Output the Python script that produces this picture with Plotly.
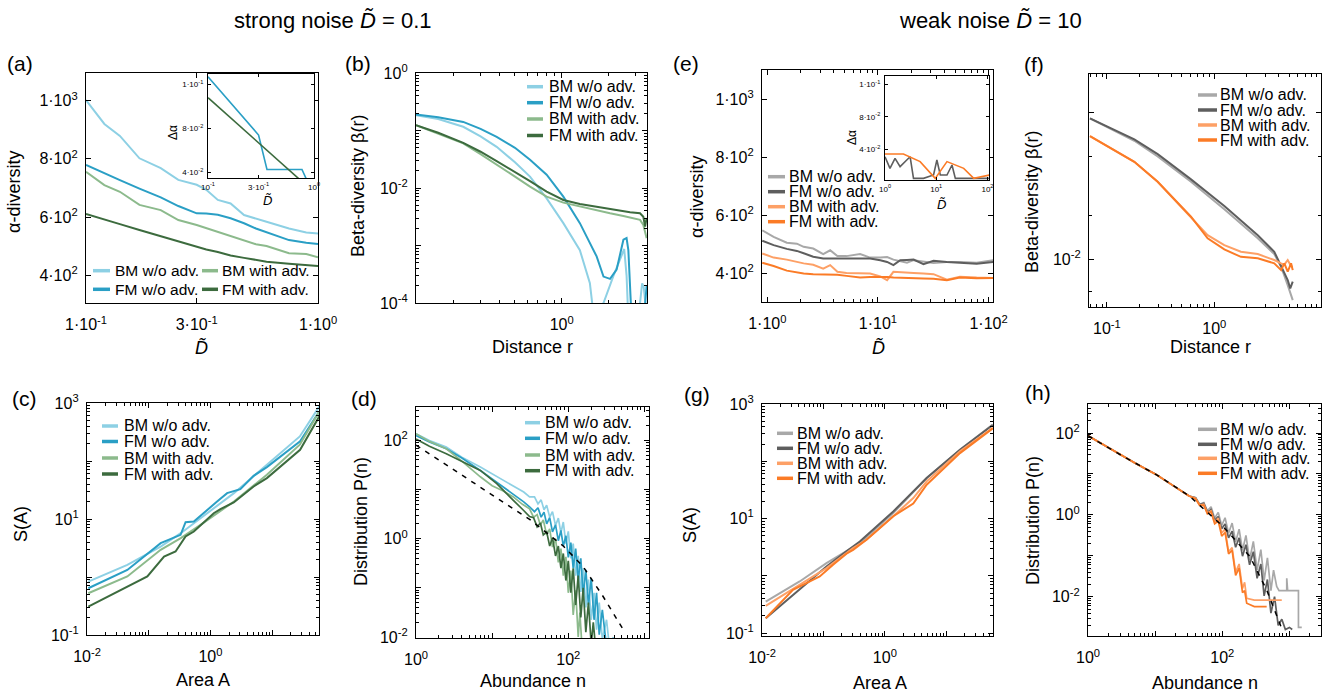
import plotly.graph_objects as go

W, H = 1333, 696
FONT = "Liberation Sans, Arial, Helvetica, sans-serif"

# ---------------- colours ----------------
C_BM_WO_A = "#8dd0e4"
C_FM_WO_A = "#2a9fc5"
C_BM_WI_A = "#8cba8c"
C_FM_WI_A = "#3c6b3e"
C_BM_WO_B = "#a8a8a8"
C_FM_WO_B = "#5e5e5e"
C_BM_WI_B = "#fda066"
C_FM_WI_B = "#fb7b26"

LABELS = ["BM w/o adv.", "FM w/o adv.", "BM with adv.", "FM with adv."]

# ---------------- (a) alpha diversity, strong noise ----------------
a_D = [0.1, 0.12, 0.14, 0.17, 0.21, 0.25, 0.30, 0.33, 0.37, 0.42, 0.48, 0.54, 0.60, 0.75, 0.89, 1.0]
a_bm_wo = [1002, 920, 879, 802, 768, 728, 711, 694, 659, 647, 607, 596, 584, 561, 547, 544]
a_fm_wo = [779, 750, 727, 698, 668, 638, 613, 612, 608, 596, 579, 561, 549, 521, 512, 508]
a_bm_with = [756, 710, 687, 642, 624, 590, 573, 562, 550, 536, 520, 507, 501, 476, 473, 462]
a_fm_with = [611, 591, 576, 556, 535, 515, 498, 489, 480, 468, 460, 453, 447, 440, 435, 432]
# inset of (a)
ia_D_wo = [0.1, 0.3, 0.36, 0.77, 0.88, 1.0]
ia_wo = [0.105, 0.0655, 0.0422, 0.0422, 0.033, 0.025]
ia_D_with = [0.1, 0.3, 0.71, 1.0]
ia_with = [0.0908, 0.0602, 0.0362, 0.0267]

# ---------------- (b) beta diversity, strong noise ----------------
b_r_bm_wo = [0.115, 0.16, 0.232, 0.30, 0.381, 0.50, 0.625, 0.80, 1.025, 1.31, 1.52, 1.62, 1.86, 2.15, 2.53, 2.62, 2.70, 3.20, 3.30, 3.38, 3.53]
b_bm_wo = [0.185, 0.158, 0.116, 0.079, 0.052, 0.028, 0.0158, 0.0066, 0.00245, 0.00083, 0.00022, 0.00005, 0.0001, 0.00029, 0.00087, 0.0003, 0.00004, 0.0001, 0.00022, 0.00019, 0.00006]
b_r_fm_wo = [0.115, 0.16, 0.232, 0.30, 0.381, 0.50, 0.625, 0.80, 1.025, 1.31, 1.68, 1.86, 2.05, 2.26, 2.50, 2.62, 2.69, 2.76, 2.85, 3.40, 3.53]
b_fm_wo = [0.189, 0.170, 0.141, 0.107, 0.0776, 0.050, 0.0309, 0.0170, 0.00708, 0.00245, 0.000646, 0.000288, 0.000263, 0.00038, 0.00126, 0.00135, 0.00083, 0.0001, 0.00003, 0.00006, 0.0002]
b_r_with = [0.115, 0.16, 0.232, 0.30, 0.381, 0.50, 0.625, 0.80, 1.025, 1.31, 1.68, 2.05, 2.50, 2.76, 3.20, 3.36, 3.45, 3.53]
b_bm_with = [0.1236, 0.0887, 0.0596, 0.0389, 0.0251, 0.0158, 0.01054, 0.00708, 0.00557, 0.00474, 0.00405, 0.00363, 0.00327, 0.00306, 0.00279, 0.00228, 0.00164, 0.00134]
b_fm_with = [0.1236, 0.0912, 0.0611, 0.0427, 0.0294, 0.0192, 0.0132, 0.00863, 0.00619, 0.00528, 0.00474, 0.00427, 0.00389, 0.0038, 0.00363, 0.00316, 0.00214, 0.00302]

# ---------------- (c) species-area, strong noise ----------------
c_A_bm_wo = [0.0105, 0.045, 0.156, 0.33, 0.69, 2.4, 8.2, 28, 58]
c_bm_wo = [0.834, 1.62, 3.35, 5.69, 10.3, 27.9, 86.1, 265, 875]
c_A_fm_wo = [0.0105, 0.045, 0.156, 0.328, 0.395, 0.538, 1.28, 1.86, 3.05, 5.0, 8.2, 28.3, 58]
c_fm_wo = [0.64, 1.32, 3.83, 5.33, 8.81, 9.06, 20.0, 27.9, 32.7, 55.6, 78.5, 218, 718]
c_A_bm_with = [0.0105, 0.045, 0.156, 0.33, 0.69, 2.4, 8.2, 28, 58]
c_bm_with = [0.524, 1.02, 2.94, 4.67, 7.93, 20.0, 57.9, 191, 718]
c_A_fm_with = [0.0105, 0.095, 0.177, 0.272, 0.395, 0.538, 1.13, 1.45, 2.38, 5.0, 8.2, 28.3, 58]
c_fm_with = [0.308, 1.02, 2.25, 2.75, 4.99, 6.08, 12.6, 14.8, 19.3, 36.4, 50.7, 156, 589]

# ---------------- (d) abundance distribution, strong noise ----------------
d_n_bm_wo = [1, 1.5, 2.5, 4, 7, 10, 14, 20, 26, 31, 36, 40, 44, 48, 52, 57, 62, 68, 74, 80,
             86, 93, 100, 108, 116, 125, 135, 146, 157, 170, 184, 200, 218, 235, 255, 280, 318, 350, 390]
d_bm_wo = [136, 100, 73.3, 45.7, 28.8, 20.9, 15.5, 11.2, 8.9, 7.1, 7.08, 5.13, 6.17, 3.89, 4.79, 2.75, 3.55, 1.86, 2.63, 1.32,
           2.19, 0.794, 1.41, 0.398, 0.794, 0.178, 0.447, 0.083, 0.251, 0.040, 0.148, 0.0224, 0.079, 0.0141, 0.050, 0.0089, 0.0224, 0.0056, 0.01]
d_n_fm_wo = [1, 1.5, 2.5, 4, 7, 10, 14, 20, 26, 31, 36, 40, 44, 48, 52, 57, 62, 68, 74, 80,
             86, 93, 100, 108, 116, 125, 135, 146, 157, 170, 184, 200, 218, 235, 255, 280, 318, 340]
d_fm_wo = [126, 93, 67.6, 43.7, 24.5, 16.6, 11.2, 7.59, 5.62, 4.47, 3.55, 4.27, 2.75, 3.47, 2.0, 2.69, 1.38, 1.91, 0.912, 1.48,
           0.708, 1.15, 0.417, 0.832, 0.251, 0.631, 0.148, 0.398, 0.0708, 0.234, 0.0447, 0.158, 0.0224, 0.0794, 0.0112, 0.0355, 0.0063, 0.0079]
d_n_bm_with = [1, 1.5, 2.5, 4, 7, 10, 14, 19, 25, 31, 35, 39, 43, 47, 52, 57, 62, 68, 74, 80,
               86, 93, 100, 108, 116, 125, 135, 142, 150, 160]
d_bm_with = [136.5, 95.5, 67.6, 38.0, 18.2, 12.0, 9.33, 7.08, 5.01, 4.07, 2.75, 3.09, 1.91, 2.40, 1.20, 1.58, 0.676, 1.0, 0.331, 0.631,
             0.178, 0.427, 0.0794, 0.224, 0.0282, 0.0891, 0.01, 0.0316, 0.0079, 0.0063]
d_n_fm_with = [1, 1.5, 2.5, 4, 7, 11.5, 15, 19, 25, 31, 35, 39, 43, 47, 52, 57, 62, 68, 74, 80,
               86, 93, 100, 108, 116, 125, 135, 146, 157, 170, 184, 200, 213, 225]
d_fm_with = [107, 75.9, 53.7, 38.0, 24.5, 13.2, 8.91, 6.03, 3.98, 2.82, 2.69, 1.74, 2.09, 1.20, 1.38, 0.708, 1.05, 0.447, 0.708, 0.251,
             0.501, 0.141, 0.355, 0.0794, 0.251, 0.0447, 0.178, 0.0251, 0.1, 0.0126, 0.0501, 0.0071, 0.02, 0.0079]
d_dash_n = [1, 4.18, 11.5, 31.4, 86, 157, 288, 527]
d_dash = [80, 19, 6.8, 2.45, 0.71, 0.27, 0.066, 0.0141]

# ---------------- (e) alpha diversity, weak noise ----------------
e_D = [0.9, 1.14, 1.5, 1.85, 2.13, 2.6, 3.2, 3.7, 4.3, 5.2, 6.9, 8.5, 10.5, 12.1, 13.8, 15.9, 18.3, 21, 25.8, 31.8, 42, 55, 78, 110]
e_bm_wo = [549, 526, 506, 503, 492, 486, 467, 480, 460, 460, 467, 455, 455, 457, 448, 443, 437, 446, 442, 436, 440, 440, 437, 446]
e_fm_wo = [513, 498, 485, 478, 470, 458, 452, 452, 452, 452, 452, 452, 446, 440, 429, 446, 447, 448, 432, 444, 440, 437, 434, 440]
e_bm_with = [469, 455, 448, 440, 435, 430, 417, 429, 406, 402, 400, 400, 390, 377, 406, 404, 403, 402, 400, 398, 379, 389, 386, 385]
e_fm_with = [437, 426, 410, 405, 400, 398, 398, 398, 396, 392, 386, 388, 389, 388, 386, 385, 384, 382, 383, 382, 377, 386, 384, 385]
# inset of (e)
ie_D_wo = [1, 1.25, 1.57, 1.97, 2.66, 3.09, 3.6, 5.65, 8.87, 10.3, 12.0, 16.2, 20.3, 23.6, 50, 110]
ie_wo = [0.0332, 0.0225, 0.0317, 0.0241, 0.0302, 0.0332, 0.0133, 0.0133, 0.0164, 0.0302, 0.0164, 0.0164, 0.0256, 0.0133, 0.0133, 0.0133]
ie_D_with = [1, 2.29, 4.85, 9.55, 16.2, 34.4, 54, 84.7, 110]
ie_with = [0.0357, 0.0357, 0.0287, 0.0133, 0.0287, 0.0225, 0.0133, 0.0149, 0.0164]

# ---------------- (f) beta diversity, weak noise ----------------
f_r_wo = [0.0695, 0.18, 0.297, 0.607, 1.24, 2.54, 3.62, 4.19, 4.83, 5.1, 5.38]
f_bm_wo = [0.091, 0.0641, 0.0501, 0.0337, 0.0219, 0.0139, 0.01086, 0.00891, 0.00668, 0.0060, 0.00528]
f_fm_wo = [0.091, 0.0655, 0.052, 0.035, 0.0231, 0.0146, 0.01127, 0.00912, 0.00724, 0.00635, 0.00705]
f_r_with = [0.0695, 0.18, 0.297, 0.607, 0.867, 1.24, 1.77, 2.54, 3.62, 4.19, 4.49, 4.83, 5.19, 5.38]
f_bm_with = [0.069, 0.0461, 0.0337, 0.0195, 0.0146, 0.0125, 0.01127, 0.01086, 0.0099, 0.0094, 0.0092, 0.0099, 0.0090, 0.0089]
f_fm_with = [0.069, 0.0461, 0.0337, 0.0195, 0.0139, 0.0117, 0.0104, 0.01016, 0.0094, 0.00845, 0.0094, 0.00824, 0.0094, 0.00845]

# ---------------- (g) species-area, weak noise ----------------
g_A_bm_wo = [0.0115, 0.041, 0.112, 0.391, 1.37, 4.79, 16.7, 51.6, 57]
g_bm_wo = [0.356, 0.798, 1.667, 3.72, 12.5, 50.9, 159, 407, 440]
g_A_fm_wo = [0.0115, 0.041, 0.112, 0.237, 0.391, 1.37, 4.79, 16.7, 51.6, 57]
g_fm_wo = [0.182, 0.570, 1.46, 2.67, 3.98, 13.3, 50.9, 159, 396, 430]
g_A_bm_with = [0.0115, 0.041, 0.112, 0.304, 0.502, 1.37, 2.90, 4.79, 16.7, 51.6, 57]
g_bm_with = [0.299, 0.697, 1.365, 3.05, 4.27, 11.0, 22.8, 44.7, 149, 355, 385]
g_A_fm_with = [0.0115, 0.0319, 0.0528, 0.087, 0.1435, 0.237, 0.304, 0.502, 1.37, 2.90, 4.79, 16.7, 51.6, 57]
g_fm_with = [0.182, 0.570, 0.745, 0.975, 1.56, 2.43, 2.85, 4.27, 11.0, 18.3, 38.9, 139, 347, 375]

# ---------------- (h) abundance distribution, weak noise ----------------
h_n_trunk = [1, 2, 3.3, 5, 7.5, 10.5, 15, 22, 32]
h_trunk = [86, 44, 26.9, 18.6, 12.9, 9.55, 6.5, 4.3, 2.9]
h_n_bm_wo_tail = [40, 46, 53, 60, 68, 77, 87, 98, 110, 124, 140, 158, 178, 200, 225, 255, 290, 330, 375, 420,
                  470, 530, 580, 646, 700, 912, 912, 940, 1362, 1362, 1526]
h_bm_wo_tail = [2.63, 1.82, 2.0, 1.26, 1.58, 0.832, 1.15, 0.55, 0.851, 0.355, 0.631, 0.219, 0.447, 0.135, 0.316, 0.0794, 0.224, 0.0447, 0.141, 0.0251,
                0.0891, 0.0141, 0.0447, 0.0178, 0.0141, 0.0141, 0.0282, 0.0141, 0.0141, 0.00178, 0.00178]
h_n_fm_wo_tail = [40, 46, 53, 60, 68, 77, 87, 98, 110, 124, 140, 158, 178, 200, 225, 255, 290, 330, 375, 420,
                  470, 530, 600, 680, 770, 870, 1000, 1100]
h_fm_wo_tail = [2.63, 1.78, 1.91, 1.17, 1.35, 0.741, 0.912, 0.457, 0.603, 0.275, 0.398, 0.162, 0.275, 0.0977, 0.186, 0.0603, 0.126, 0.0282, 0.063, 0.0105,
                0.0263, 0.00398, 0.01, 0.002, 0.00282, 0.00158, 0.00178, 0.00158]
h_n_bm_with_tail = [40, 46, 53, 60, 68, 77, 87, 98, 110, 124, 140, 158, 178, 200, 215, 231, 300, 500, 769]
h_bm_with_tail = [2.57, 1.74, 1.82, 1.10, 1.26, 0.661, 0.832, 0.363, 0.447, 0.126, 0.158, 0.0398, 0.0631, 0.0158, 0.0224, 0.00912, 0.0083, 0.0083, 0.0083]
h_n_fm_with_tail = [40, 46, 53, 60, 68, 77, 87, 98, 110, 124, 140, 158, 178, 200, 215, 231, 300, 380, 458]
h_fm_with_tail = [2.45, 1.70, 1.70, 1.07, 1.20, 0.603, 0.708, 0.302, 0.372, 0.112, 0.135, 0.0331, 0.0501, 0.0126, 0.0141, 0.00692, 0.00575, 0.00575, 0.00575]
h_dash_n = [1, 3.33, 10.5, 32.9, 104, 259, 459, 769]
h_dash = [86, 26.9, 9.55, 2.82, 0.51, 0.095, 0.0145, 0.00166]


# =====================================================================
def px_x(x):
    return x / W


def px_y(y):
    return 1 - y / H


def ids(i):
    return ("x" if i == 1 else f"x{i}", "y" if i == 1 else f"y{i}")


fig = go.Figure()


def line(i, xs, ys, color, width=2.0, dash=None):
    xa, ya = ids(i)
    fig.add_trace(go.Scatter(x=xs, y=ys, mode="lines", xaxis=xa, yaxis=ya,
                             line=dict(color=color, width=width, dash=dash),
                             showlegend=False, hoverinfo="skip"))


def sup(base, exp):
    return f"{base}<sup>{exp}</sup>"


def minor_log(e0, e1):
    return [m * 10.0 ** e for e in range(e0, e1 + 1) for m in range(2, 10)]


layout_axes = {}


def axis(i, xdom, ydom, xr, yr, xtype, ytype, xtv, xtt, ytv, ytt,
         xminor=None, yminor=None, fsize=16, tlen=5, xstand=7, ystand=4):
    xa, ya = ids(i)
    common = dict(showline=True, linecolor="black", linewidth=1.3, mirror="ticks",
                  ticks="inside", ticklen=tlen, tickwidth=1, tickcolor="black",
                  showgrid=False, zeroline=False, tickmode="array", automargin=False,
                  tickfont=dict(size=fsize, family=FONT, color="black"))
    xd = dict(common, domain=[px_x(xdom[0]), px_x(xdom[1])], range=xr, type=xtype,
              tickvals=xtv, ticktext=xtt, anchor=ya, ticklabelstandoff=xstand)
    yd = dict(common, domain=[px_y(ydom[1]), px_y(ydom[0])], range=yr, type=ytype,
              tickvals=ytv, ticktext=ytt, anchor=xa, ticklabelstandoff=ystand)
    if xminor:
        xd["minor"] = dict(tickmode="array", tickvals=xminor, ticks="inside",
                           ticklen=tlen * 0.55, tickcolor="black", tickwidth=1, showgrid=False)
    if yminor:
        yd["minor"] = dict(tickmode="array", tickvals=yminor, ticks="inside",
                           ticklen=tlen * 0.55, tickcolor="black", tickwidth=1, showgrid=False)
    layout_axes["xaxis" if i == 1 else f"xaxis{i}"] = xd
    layout_axes["yaxis" if i == 1 else f"yaxis{i}"] = yd


lin_alpha_vals = [400, 600, 800, 1000]
lin_alpha_text = [sup("4·10", 2), sup("6·10", 2), sup("8·10", 2), sup("1·10", 3)]
inset_vals = [0.04, 0.07, 0.1]
inset_text = [sup("4·10", "-2"), sup("8·10", "-2"), sup("1·10", "-1")]

# (a)
axis(1, (86, 318), (73, 303), [-1, 0], [305, 1095], "log", "linear",
     [0.1, 0.3, 1.0], [sup("1·10", "-1"), sup("3·10", "-1"), sup("1·10", "0")],
     lin_alpha_vals, lin_alpha_text)
# (b)
axis(2, (416, 647), (73, 303), [-0.939, 0.550], [-4, 0], "log", "log",
     [1], [sup("10", "0")],
     [1e-4, 1e-3, 1e-2, 1e-1, 1], [sup("10", "-4"), "", sup("10", "-2"), "", sup("10", "0")],
     xminor=minor_log(-1, 0), yminor=minor_log(-4, -1))
# (c)
axis(3, (87, 319), (403, 635), [-2, 1.758], [-1, 3], "log", "log",
     [0.01, 0.1, 1, 10], [sup("10", "-2"), "", sup("10", "0"), ""],
     [0.1, 1, 10, 100, 1000], [sup("10", "-1"), "", sup("10", "1"), "", sup("10", "3")],
     xminor=minor_log(-2, 1), yminor=minor_log(-1, 2))
# (d)
axis(4, (416, 649), (407, 638), [0, 3.06], [-2.02, 2.68], "log", "log",
     [1, 10, 100, 1000], [sup("10", "0"), "", sup("10", "2"), ""],
     [0.01, 0.1, 1, 10, 100], [sup("10", "-2"), "", sup("10", "0"), "", sup("10", "2")],
     xminor=minor_log(0, 2), yminor=minor_log(-2, 2))
# (e)
axis(5, (762, 993), (70, 302), [-0.048, 2.04], [302, 1101], "log", "linear",
     [1, 10, 100], [sup("1·10", "0"), sup("1·10", "1"), sup("1·10", "2")],
     lin_alpha_vals, lin_alpha_text, xminor=minor_log(-1, 1))
# (f)
axis(6, (1089, 1321), (74, 307), [-1.167, 0.994], [-2.324, -0.739], "log", "log",
     [0.1, 1], [sup("10", "-1"), sup("10", "0")],
     [0.01, 0.1], [sup("10", "-2"), ""],
     xminor=minor_log(-2, 0), yminor=[0.006, 0.02, 0.05])
# (g)
axis(7, (762, 993), (404, 636), [-2, 1.76], [-1.05, 3], "log", "log",
     [0.01, 0.1, 1, 10], [sup("10", "-2"), "", sup("10", "0"), ""],
     [0.1, 1, 10, 100, 1000], [sup("10", "-1"), "", sup("10", "1"), "", sup("10", "3")],
     xminor=minor_log(-2, 1), yminor=minor_log(-2, 2))
# (h)
axis(8, (1088, 1321), (404, 636), [0, 3.47], [-2.96, 2.71], "log", "log",
     [1, 10, 100, 1000], [sup("10", "0"), "", sup("10", "2"), ""],
     [0.01, 0.1, 1, 10, 100], [sup("10", "-2"), "", sup("10", "0"), "", sup("10", "2")],
     xminor=minor_log(0, 3), yminor=minor_log(-3, 2))
# inset (a)
axis(9, (208, 314), (74, 178), [-1, 0], [0.0364, 0.1068], "log", "linear",
     [0.1, 0.3, 1], [sup("10", "-1"), sup("3·10", "-1"), sup("10", "0")],
     inset_vals, inset_text, fsize=8, tlen=3, xstand=1, ystand=2)
# inset (e)
axis(10, (885, 989), (76, 180), [0, 2.03], [0.0118, 0.1074], "log", "linear",
     [1, 10, 100], [sup("10", "0"), sup("10", "1"), sup("10", "2")],
     inset_vals, inset_text, fsize=8, tlen=3, xstand=1, ystand=2)

# ---------------- traces ----------------
line(1, a_D, a_bm_wo, C_BM_WO_A)
line(1, a_D, a_fm_wo, C_FM_WO_A)
line(1, a_D, a_bm_with, C_BM_WI_A)
line(1, a_D, a_fm_with, C_FM_WI_A)
line(9, ia_D_wo, ia_wo, C_FM_WO_A, 1.6)
line(9, ia_D_with, ia_with, C_FM_WI_A, 1.6)

line(2, b_r_bm_wo, b_bm_wo, C_BM_WO_A)
line(2, b_r_fm_wo, b_fm_wo, C_FM_WO_A)
line(2, b_r_with, b_bm_with, C_BM_WI_A)
line(2, b_r_with, b_fm_with, C_FM_WI_A)

line(3, c_A_bm_wo, c_bm_wo, C_BM_WO_A)
line(3, c_A_fm_wo, c_fm_wo, C_FM_WO_A)
line(3, c_A_bm_with, c_bm_with, C_BM_WI_A)
line(3, c_A_fm_with, c_fm_with, C_FM_WI_A)

line(4, d_n_bm_wo, d_bm_wo, C_BM_WO_A, 1.7)
line(4, d_n_fm_wo, d_fm_wo, C_FM_WO_A, 1.7)
line(4, d_n_bm_with, d_bm_with, C_BM_WI_A, 1.7)
line(4, d_n_fm_with, d_fm_with, C_FM_WI_A, 1.7)
line(4, d_dash_n, d_dash, "black", 1.5, "5px,6px")

line(5, e_D, e_bm_wo, C_BM_WO_B)
line(5, e_D, e_fm_wo, C_FM_WO_B)
line(5, e_D, e_bm_with, C_BM_WI_B)
line(5, e_D, e_fm_with, C_FM_WI_B)
line(10, ie_D_wo, ie_wo, C_FM_WO_B, 1.6)
line(10, ie_D_with, ie_with, C_FM_WI_B, 1.6)

line(6, f_r_wo, f_bm_wo, C_BM_WO_B)
line(6, f_r_wo, f_fm_wo, C_FM_WO_B)
line(6, f_r_with, f_bm_with, C_BM_WI_B)
line(6, f_r_with, f_fm_with, C_FM_WI_B)

line(7, g_A_bm_wo, g_bm_wo, C_BM_WO_B)
line(7, g_A_fm_wo, g_fm_wo, C_FM_WO_B)
line(7, g_A_bm_with, g_bm_with, C_BM_WI_B)
line(7, g_A_fm_with, g_fm_with, C_FM_WI_B)

line(8, h_n_trunk + h_n_bm_wo_tail, h_trunk + h_bm_wo_tail, C_BM_WO_B, 1.7)
line(8, h_n_trunk + h_n_fm_wo_tail, h_trunk + h_fm_wo_tail, C_FM_WO_B, 1.7)
line(8, h_n_trunk + h_n_bm_with_tail, h_trunk + h_bm_with_tail, C_BM_WI_B, 1.7)
line(8, h_n_trunk + h_n_fm_with_tail, h_trunk + h_fm_with_tail, C_FM_WI_B, 1.7)
line(8, h_dash_n, h_dash, "black", 1.5, "5px,6px")

# ---------------- text & legends ----------------
annotations = []
shapes = []


def text(x, y, s, size=18, angle=0, xanchor="center", yanchor="middle"):
    annotations.append(dict(x=px_x(x), y=px_y(y), xref="paper", yref="paper", text=s,
                            showarrow=False, textangle=angle, xanchor=xanchor, yanchor=yanchor,
                            font=dict(size=size, family=FONT, color="black")))


def legend(x0, x1, xt, rows, entries, size=16):
    for yy, (lab, col) in zip(rows, entries):
        shapes.append(dict(type="line", xref="paper", yref="paper",
                           x0=px_x(x0), x1=px_x(x1), y0=px_y(yy), y1=px_y(yy),
                           line=dict(color=col, width=3.5)))
        text(xt, yy, lab, size=size, xanchor="left")


DT = "<i>D\u0303</i>"
text(333, 20, "strong noise " + DT + " = 0.1", size=22)
text(990, 20, "weak noise " + DT + " = 10", size=22)

for lab, x, y in [("(a)", 20, 63), ("(b)", 358, 63), ("(c)", 24, 398), ("(d)", 364, 398),
                  ("(e)", 686, 63), ("(f)", 1034, 65), ("(g)", 697, 394), ("(h)", 1038, 392)]:
    text(x, y, lab, size=21)

text(14, 192, "α-diversity", angle=-90)
text(202, 347, DT)
text(358, 186, "Beta-diversity β(r)", angle=-90)
text(532, 347, "Distance r")
text(21, 524, "S(A)", angle=-90)
text(203, 680, "Area A")
text(361, 522, "Distribution P(n)", angle=-90)
text(533, 681, "Abundance n")
text(697, 197, "α-diversity", angle=-90)
text(878, 347, DT)
text(1032, 202, "Beta-diversity β(r)", angle=-90)
text(1210, 347, "Distance r")
text(690, 525, "S(A)", angle=-90)
text(880, 683, "Area A")
text(1033, 521, "Distribution P(n)", angle=-90)
text(1205, 683, "Abundance n")
# inset titles
text(173, 133, "Δα", size=12, angle=-90)
text(267, 201, DT, size=13)
text(852, 138, "Δα", size=12, angle=-90)
text(942, 204, DT, size=13)

ENT_A = list(zip(LABELS, [C_BM_WO_A, C_FM_WO_A, C_BM_WI_A, C_FM_WI_A]))
ENT_B = list(zip(LABELS, [C_BM_WO_B, C_FM_WO_B, C_BM_WI_B, C_FM_WI_B]))

legend(93, 110, 113, [270.7, 289.3], [ENT_A[0], ENT_A[1]], size=15.5)
legend(202, 218, 220, [270.7, 289.3], [ENT_A[2], ENT_A[3]], size=15.5)
legend(527, 543, 546.7, [86.7, 102.7, 119, 135.5], ENT_A)
legend(102, 118, 122, [426, 441.5, 458, 474], ENT_A)
legend(525, 540, 543.3, [422.7, 438.3, 455, 470.7], ENT_A)
legend(768, 785, 786.7, [176.7, 191.7, 206.7, 221.7], ENT_B)
legend(1198, 1217, 1218.3, [95, 110, 125, 140], ENT_B)
legend(777, 793, 795, [433.3, 448.3, 463.3, 478.3], ENT_B)
legend(1198, 1217, 1218.3, [429.3, 444.3, 458.3, 473.3], ENT_B)

fig.update_layout(
    width=W, height=H, autosize=False,
    margin=dict(l=0, r=0, t=0, b=0, pad=0, autoexpand=False),
    paper_bgcolor="white", plot_bgcolor="white",
    font=dict(family=FONT, color="black"),
    showlegend=False, annotations=annotations, shapes=shapes,
    **layout_axes,
)

fig.write_html("out.html", config={"displayModeBar": False},
               post_script="document.body.style.margin='0';document.body.style.overflow='hidden';")
